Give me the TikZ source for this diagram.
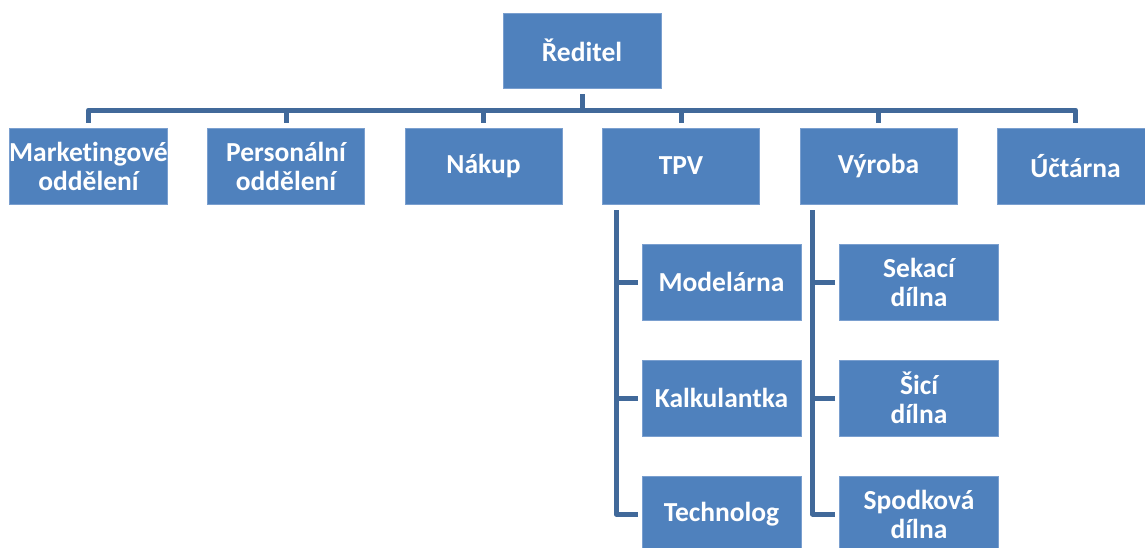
\documentclass[tikz,border=0pt]{standalone}
\usepackage{fontspec}
\setmainfont{Carlito}[Ligatures=NoCommon]
\definecolor{boxblue}{HTML}{4F81BD}
\definecolor{boxedge}{HTML}{7A9FCF}
\definecolor{connblue}{HTML}{41699A}
\begin{document}
\begin{tikzpicture}[x=1pt,y=-1pt,
  unit/.style={rectangle, fill=boxblue, draw=boxedge, line width=0.8pt,
    minimum width=157pt, minimum height=76pt, inner sep=0pt, align=center,
    text=white, font=\fontsize{27.5}{29}\selectfont\bfseries},
  conn/.style={draw=connblue, line width=5pt, line join=round}]
\useasboundingbox (0,0) rectangle (1145,547);
% nodes
\node[unit, minimum width=158pt, minimum height=75pt] (red) at (582,50.5) {Ředitel};
\node[unit] (mkt) at (88.5,166) {Marketingové\\oddělení};
\node[unit] (pers) at (286,166) {Personální\\oddělení};
\node[unit] (nak) at (483.5,166) {Nákup};
\node[unit] (tpv) at (681,166) {TPV};
\node[unit] (vyr) at (878.5,166) {Výroba};
\node[unit] (uct) at (1075.5,166) {Účtárna};
\node[unit, minimum width=159pt] (mod) at (721.5,282) {Modelárna};
\node[unit, minimum width=159pt] (kal) at (721.5,398) {Kalkulantka};
\node[unit, minimum width=159pt] (tech) at (721.5,514) {Technolog};
\node[unit, minimum width=159pt] (sek) at (919,282) {Sekací\\dílna};
\node[unit, minimum width=159pt] (sic) at (919,398) {Šicí\\dílna};
\node[unit, minimum width=159pt] (spod) at (919,514) {Spodková\\dílna};
% connectors
\coordinate (bar) at (0,110);
\draw[conn] ([yshift=-6pt]red.south) -- (red.south |- bar);
\draw[conn] ([yshift=5pt]mkt.north) |- (uct.north |- bar) -- ([yshift=5pt]uct.north);
\foreach \n in {pers,nak,tpv,vyr}
  \draw[conn] ([yshift=5pt]\n.north) -- (\n.north |- bar);
% TPV subtree
\coordinate (tpvt) at ([xshift=14pt,yshift=-6pt]tpv.south west);
\draw[conn] (tpvt) |- ([xshift=-4pt]tech.west);
\draw[conn] ([xshift=-4pt]mod.west) -- (mod.west -| tpvt);
\draw[conn] ([xshift=-4pt]kal.west) -- (kal.west -| tpvt);
% Vyroba subtree
\coordinate (vyrt) at ([xshift=13pt,yshift=-6pt]vyr.south west);
\draw[conn] (vyrt) |- ([xshift=-4pt]spod.west);
\draw[conn] ([xshift=-4pt]sek.west) -- (sek.west -| vyrt);
\draw[conn] ([xshift=-4pt]sic.west) -- (sic.west -| vyrt);
\end{tikzpicture}
\end{document}
